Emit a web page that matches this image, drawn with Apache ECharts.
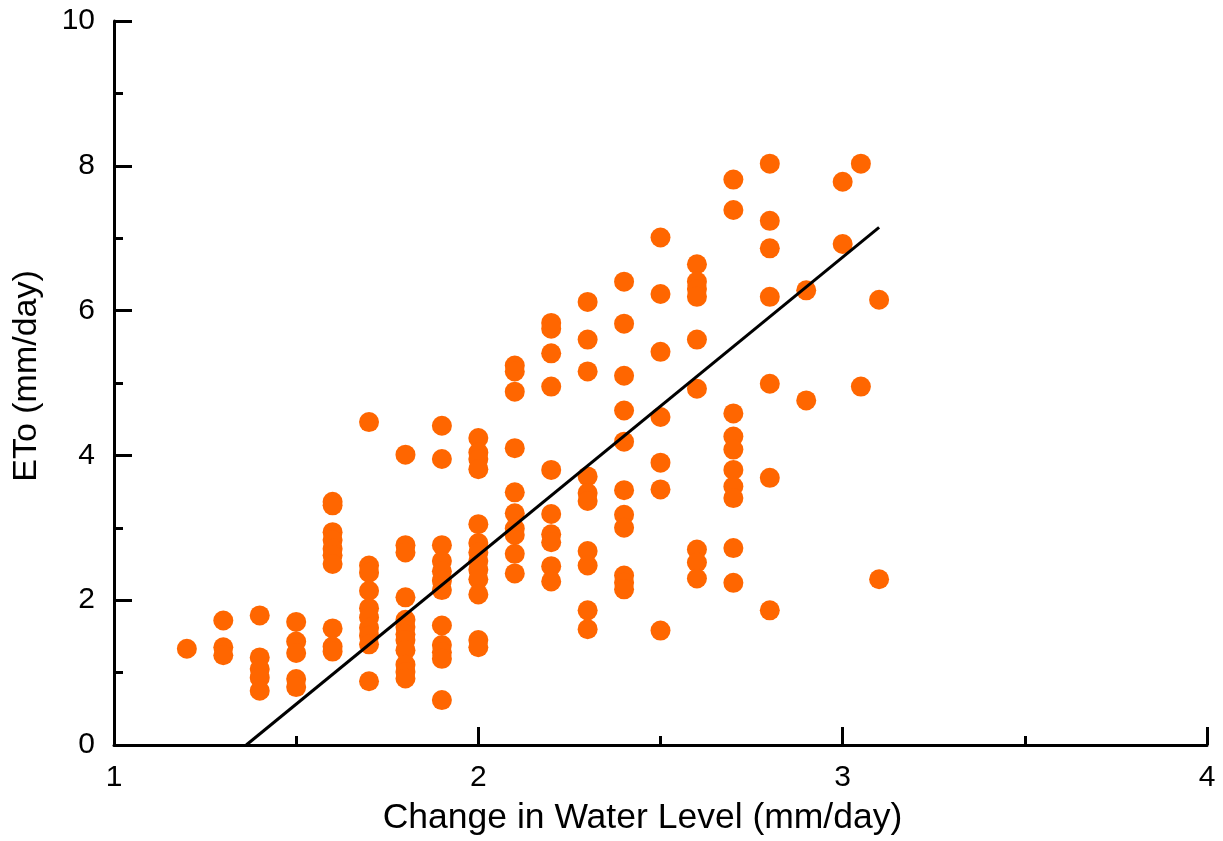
<!DOCTYPE html>
<html>
<head>
<meta charset="utf-8">
<script src="https://cdn.jsdelivr.net/npm/echarts@6/dist/echarts.min.js"></script>
<style>
  html, body { margin: 0; padding: 0; background: #fff; }
  #chart { width: 1223px; height: 841px; }
</style>
</head>
<body>
<div id="chart"></div>
<script>
// x positions of the point columns (mm/day)
const waterLevel = [1.2, 1.3, 1.4, 1.5, 1.6, 1.7, 1.8, 1.9, 2.0, 2.1, 2.2, 2.3, 2.4, 2.5, 2.6, 2.7, 2.8, 2.9, 3.0, 3.05, 3.1];
// ETo readings in each column
const etoByColumn = [
    [1.33],
    [1.72, 1.35, 1.24],
    [1.79, 1.21, 1.05, 0.93, 0.75],
    [1.70, 1.43, 1.27, 0.91, 0.80],
    [3.36, 3.31, 2.94, 2.83, 2.71, 2.62, 2.50, 1.61, 1.36, 1.29],
    [4.46, 2.48, 2.38, 2.13, 1.89, 1.76, 1.62, 1.51, 1.39, 0.88],
    [4.01, 2.76, 2.66, 2.04, 1.73, 1.63, 1.53, 1.45, 1.31, 1.11, 1.01, 0.92],
    [4.41, 3.95, 2.76, 2.54, 2.40, 2.27, 2.14, 1.65, 1.38, 1.28, 1.19, 0.62],
    [4.24, 4.04, 3.95, 3.81, 3.05, 2.79, 2.66, 2.54, 2.42, 2.29, 2.08, 1.45, 1.35],
    [5.24, 5.16, 4.88, 4.10, 3.49, 3.20, 2.99, 2.90, 2.64, 2.37],
    [5.83, 5.75, 5.41, 4.95, 3.80, 3.19, 2.91, 2.80, 2.47, 2.26],
    [6.12, 5.60, 5.16, 3.71, 3.48, 3.37, 2.68, 2.48, 1.86, 1.60],
    [6.40, 5.82, 5.10, 4.62, 4.19, 3.52, 3.18, 3.00, 2.34, 2.24, 2.15],
    [7.01, 6.23, 5.43, 4.53, 3.90, 3.53, 1.58],
    [6.64, 6.40, 6.30, 6.19, 5.60, 4.92, 2.70, 2.52, 2.30],
    [7.81, 7.39, 4.58, 4.26, 4.08, 3.80, 3.57, 3.41, 2.72, 2.24],
    [8.03, 7.24, 6.86, 6.19, 4.99, 3.69, 1.86],
    [6.28, 4.76],
    [7.78, 6.92],
    [8.03, 4.95],
    [6.15, 2.29]
];
// fitted trend line end points
const fitX = [1.363, 3.1];
const fitY = [0, 7.15];

const xTicks = { min: 1, max: 4, interval: 1 };
const yTicks = { min: 0, max: 10, interval: 2 };

const points = [];
waterLevel.forEach((x, i) => {
    etoByColumn[i].forEach(y => points.push([x, y]));
});
const fitLine = fitX.map((x, i) => [x, fitY[i]]);

const font = '"Liberation Sans", Arial, sans-serif';
const axisCommon = {
    axisLine: { show: true, onZero: false, lineStyle: { color: '#000', width: 3 } },
    axisTick: { show: true, inside: true, length: 18, lineStyle: { color: '#000', width: 3 } },
    minorTick: { show: true, splitNumber: 2, length: 9, lineStyle: { color: '#000', width: 3 } },
    splitLine: { show: false },
    minorSplitLine: { show: false },
    axisLabel: { color: '#000', fontSize: 30, fontFamily: font }
};

const chart = echarts.init(document.getElementById('chart'));
chart.setOption({
    animation: false,
    backgroundColor: '#fff',
    grid: { left: 114, top: 21, right: 16, bottom: 92 },
    xAxis: Object.assign({}, axisCommon, {
        type: 'value',
        min: xTicks.min, max: xTicks.max, interval: xTicks.interval,
        name: 'Change in Water Level (mm/day)',
        nameLocation: 'middle',
        nameGap: 55,
        nameTextStyle: { color: '#000', fontSize: 35.5, fontFamily: font, padding: [0, 36, 0, 0] },
        axisLabel: Object.assign({}, axisCommon.axisLabel, { margin: 18 })
    }),
    yAxis: Object.assign({}, axisCommon, {
        type: 'value',
        min: yTicks.min, max: yTicks.max, interval: yTicks.interval,
        name: 'ETo (mm/day)',
        nameLocation: 'middle',
        nameGap: 70,
        nameRotate: 90,
        nameTextStyle: { color: '#000', fontSize: 34, fontFamily: font, padding: [0, 0, 0, 14] },
        axisLabel: Object.assign({}, axisCommon.axisLabel, { margin: 19 })
    }),
    series: [
        {
            type: 'scatter',
            data: points,
            symbol: 'circle',
            symbolSize: 20,
            itemStyle: { color: '#ff6600', opacity: 1 }
        },
        {
            type: 'line',
            data: fitLine,
            symbol: 'none',
            lineStyle: { color: '#000', width: 3 },
            z: 3
        }
    ]
});
</script>
</body>
</html>
